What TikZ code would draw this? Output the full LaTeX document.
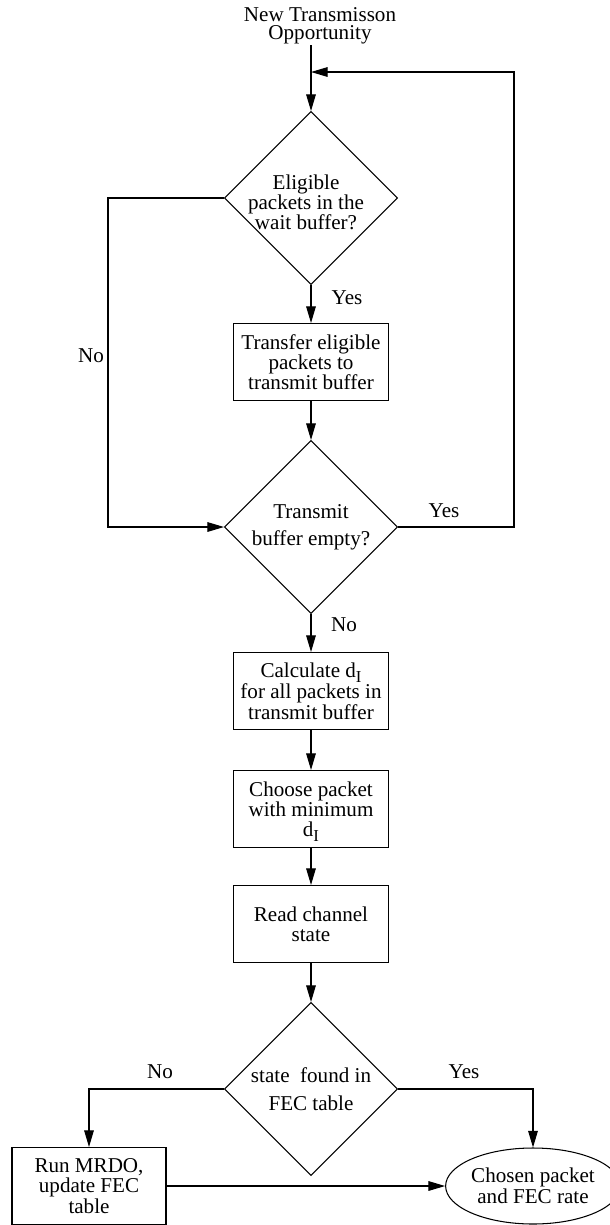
\documentclass[tikz,border=0pt]{standalone}
\usepackage{fontspec}
\setmainfont{Liberation Serif}
\usetikzlibrary{shapes.geometric,arrows.meta}
\newcommand{\dI}{d\raisebox{-3pt}[0pt][0pt]{\fontsize{9.5}{9.5}\selectfont I}}

\begin{document}
\begin{tikzpicture}[
  x=0.2mm, y=-0.2mm,
  font=\fontsize{12}{11.3}\selectfont,
  box/.style={rectangle, draw=black, line width=0.6pt, align=center, inner sep=0pt, minimum width=31mm, minimum height=15.4mm},
  decision/.style={diamond, draw=black, line width=0.6pt, inner sep=0pt, minimum width=34.6mm, minimum height=34.6mm},
  endnode/.style={ellipse, draw=black, line width=0.6pt, align=center, inner sep=0pt, minimum width=30.2mm, minimum height=15.2mm},
  link/.style={line width=0.6pt, draw=black, -{Triangle[length=9.5pt,width=5.5pt]}},
  tag/.style={inner sep=0pt}
]
  \useasboundingbox (0,0) rectangle (610,1225);

  % start and loop corners
  \node[align=center, font=\fontsize{12}{10.4}\selectfont] (start) at (320,26) {New Transmisson\\Opportunity};
  \coordinate (top) at (311,45);
  \coordinate (join) at (311,72);
  \coordinate (rt) at (514,72);
  \coordinate (lf) at (108,527);

  % main column
  \node[decision, label={[align=center,xshift=-1mm,yshift=-0.8mm]center:{Eligible\\packets in the\\wait buffer?}}] (q1) at (311,198) {};
  \node[box] (b1) at (311,362) {Transfer eligible\\packets to\\transmit buffer};
  \node[decision, label={[align=center,font=\fontsize{12}{15.5}\selectfont]center:{Transmit\\buffer empty?}}] (q2) at (311,527) {};
  \node[box, font=\fontsize{12}{12}\selectfont] (b2) at (311,691) {Calculate \dI\\for all packets in\\transmit buffer};
  \node[box] (b3) at (311,809) {Choose packet\\with minimum\\\dI};
  \node[box] (b4) at (311,924) {Read channel\\state};
  \node[decision, label={[align=center,font=\fontsize{12}{15.8}\selectfont]center:{state~ found in\\FEC table}}] (q3) at (311,1089) {};
  \node[box, minimum width=30.8mm, font=\fontsize{12}{10}\selectfont] (b5) at (89,1186) {Run MRDO,\\update FEC\\table};
  \node[endnode, font=\fontsize{12}{10.3}\selectfont] (done) at (533,1186) {Chosen packet\\and FEC rate};

  % Yes / No
  \node[tag] (yes1) at (347,298) {Yes};
  \node[tag] (no1) at (91,356) {No};
  \node[tag] (yes2) at (444,511) {Yes};
  \node[tag] (no2) at (344,625) {No};
  \node[tag] (no3) at (160,1072) {No};
  \node[tag] (yes3) at (464,1072) {Yes};

  % arrows
  \draw[link] (top) -- (q1.north);
  \draw[link] (q1.south) -- (b1.north);
  \draw[link] (b1.south) -- (q2.north);
  \draw[link] (q2.south) -- (b2.north);
  \draw[link] (b2.south) -- (b3.north);
  \draw[link] (b3.south) -- (b4.north);
  \draw[link] (b4.south) -- (q3.north);
  \draw[link] (q2.east) -| (rt) -- (join);
  \draw[link] (q1.west) -| (lf) -- (q2.west);
  \draw[link] (q3.west) -| (b5.north);
  \draw[link] (q3.east) -| (done.north);
  \draw[link] (b5.east) -- (done.west);
\end{tikzpicture}
\end{document}
